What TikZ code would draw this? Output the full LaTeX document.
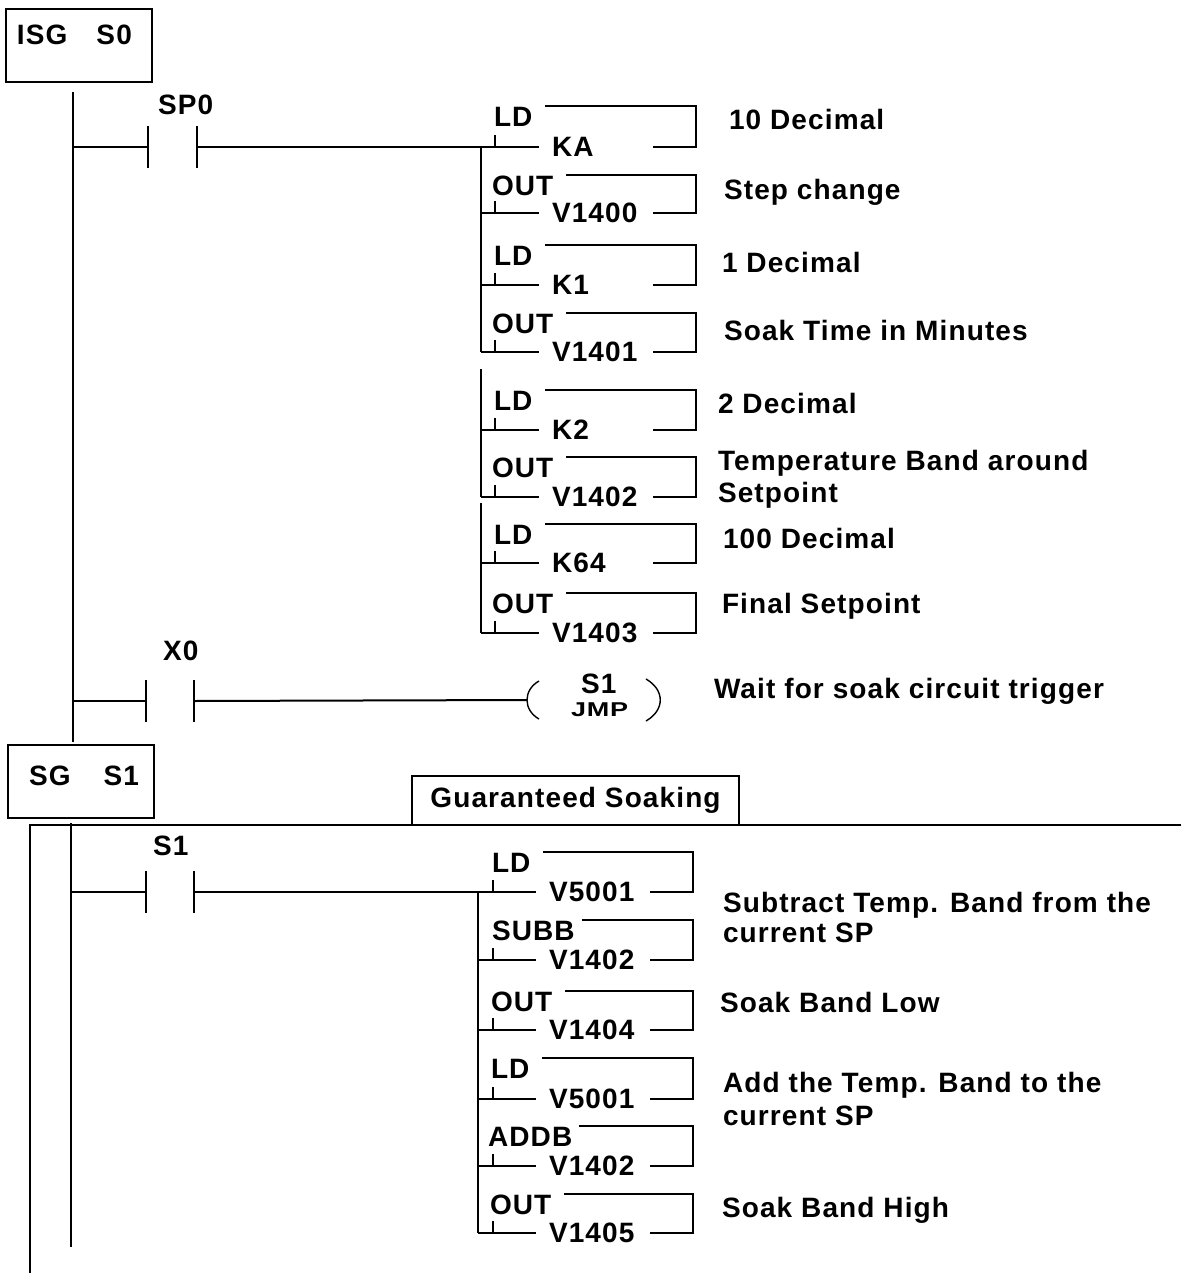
\documentclass[tikz,border=0pt]{standalone}
\usepackage{fontspec}
\setmainfont{Liberation Sans}[LetterSpace=4]
\usetikzlibrary{positioning}

\begin{document}
\begin{tikzpicture}[
    x=0.5pt, y=-0.5pt,
    line width=1pt,
    every node/.style={
        font=\fontsize{14}{16}\selectfont\bfseries,
        inner sep=0pt
    },
    stagebox/.style={draw, minimum width=73pt, minimum height=36.5pt},
    contact/.style={minimum width=23.25pt, minimum height=19.75pt},
    instr/.style={anchor=north west},
    opnd/.style={inner xsep=6pt, text width=44pt, align=left},
    note/.style={anchor=base west},
    coil/.style={minimum width=66pt, minimum height=20pt}
]
\useasboundingbox (0,0) rectangle (1181,1273);

% Stage S0
\node[stagebox] (isg) at (79,45.5) {};
\node[note] (isglbl) at (16,45) {ISG\hspace{14.5pt}S0};
\coordinate (rail0) at (73,92);
\draw (rail0) -- (73,742);

% rung 1: SP0 contact
\node[contact] (sp0) at (172.5,147) {};
\node[note] (sp0lbl) at (157,115) {SP0};
\draw (sp0.north west) -- (sp0.south west) (sp0.north east) -- (sp0.south east);
\draw (rail0 |- sp0) -- (sp0.west);

% instruction stack, S0
\coordinate (busA) at (481,0);
\coordinate (tickA) at (495,0);
\coordinate (rA) at (696,0);

\node[instr] (instr1) at (493,106) {LD};
\node[opnd] (opnd1) at (596,147) {KA};
\node[instr] (instr2) at (491,175) {OUT};
\node[opnd] (opnd2) at (596,213) {V1400};
\node[instr] (instr3) at (493,245) {LD};
\node[opnd] (opnd3) at (596,285) {K1};
\node[instr] (instr4) at (491,313) {OUT};
\node[opnd] (opnd4) at (596,352) {V1401};
\node[instr] (instr5) at (493,390) {LD};
\node[opnd] (opnd5) at (596,430) {K2};
\node[instr] (instr6) at (491,457) {OUT};
\node[opnd] (opnd6) at (596,497) {V1402};
\node[instr] (instr7) at (493,524) {LD};
\node[opnd] (opnd7) at (596,563) {K64};
\node[instr] (instr8) at (491,593) {OUT};
\node[opnd] (opnd8) at (596,633) {V1403};

\draw (sp0.east) -- (opnd1.west);
\draw ([xshift=6pt]instr1.north east) -- (instr1.north -| rA) |- (opnd1.east);
\draw ([xshift=6pt]instr2.north east) -- (instr2.north -| rA) |- (opnd2.east);
\draw ([xshift=6pt]instr3.north east) -- (instr3.north -| rA) |- (opnd3.east);
\draw ([xshift=6pt]instr4.north east) -- (instr4.north -| rA) |- (opnd4.east);
\draw ([xshift=6pt]instr5.north east) -- (instr5.north -| rA) |- (opnd5.east);
\draw ([xshift=6pt]instr6.north east) -- (instr6.north -| rA) |- (opnd6.east);
\draw ([xshift=6pt]instr7.north east) -- (instr7.north -| rA) |- (opnd7.east);
\draw ([xshift=6pt]instr8.north east) -- (instr8.north -| rA) |- (opnd8.east);

\draw (busA |- opnd1) -- (busA |- opnd4);
\draw (481,369) -- (busA |- opnd6);
\draw (481,503) -- (busA |- opnd8);
\draw (busA |- opnd2) -- (opnd2.west) (busA |- opnd3) -- (opnd3.west)
      (busA |- opnd4) -- (opnd4.west) (busA |- opnd5) -- (opnd5.west)
      (busA |- opnd6) -- (opnd6.west) (busA |- opnd7) -- (opnd7.west)
      (busA |- opnd8) -- (opnd8.west);
\draw (tickA |- opnd1) -- ++(0,-12) (tickA |- opnd2) -- ++(0,-12)
      (tickA |- opnd3) -- ++(0,-12) (tickA |- opnd4) -- ++(0,-12)
      (tickA |- opnd5) -- ++(0,-12) (tickA |- opnd6) -- ++(0,-12)
      (tickA |- opnd7) -- ++(0,-12) (tickA |- opnd8) -- ++(0,-12);

% comments, S0
\node[note] (note1) at (728,130) {10 Decimal};
\node[note] (note2) at (723,200) {Step change};
\node[note] (note3) at (721,272) {1 Decimal};
\node[note] (note4) at (723,340) {Soak Time in Minutes};
\node[note] (note5) at (717,413) {2 Decimal};
\node[note] (note6) at (717,470) {Temperature Band around};
\node[note] (note6b) at (717,502) {Setpoint};
\node[note] (note7) at (722,548) {100 Decimal};
\node[note] (note8) at (721,613) {Final Setpoint};

% rung 2: X0 contact and jump coil
\node[contact] (x0) at (170,701) {};
\node[note] (x0lbl) at (162,660) {X0};
\draw (x0.north west) -- (x0.south west) (x0.north east) -- (x0.south east);
\node[coil] (jmp) at (594,700) {};
\node[note] (jmpst) at (580,693) {S1};
\node[note, font=\fontsize{10}{12}\selectfont\bfseries\addfontfeature{FakeStretch=1.35}]
    (jmplbl) at (570,716) {JMP};
\draw (rail0 |- x0) -- (x0.west);
\draw (x0.east) -- (jmp.west);
\draw[line width=0.7pt] ([xshift=6pt,yshift=-1pt]jmp.north west)
    .. controls ([xshift=-2pt,yshift=5pt]jmp.west) and ([xshift=-2pt,yshift=-5pt]jmp.west)
    .. ([xshift=6pt,yshift=1pt]jmp.south west);
\draw[line width=0.7pt] ([xshift=-7.5pt]jmp.north east)
    .. controls ([xshift=2pt,yshift=5pt]jmp.east) and ([xshift=2pt,yshift=-5pt]jmp.east)
    .. ([xshift=-7.5pt]jmp.south east);
\node[note] (note9) at (713,698) {Wait for soak circuit trigger};

% Stage S1
\node[stagebox] (sg1) at (81,781.5) {};
\node[note] (sglbl) at (28,785) {SG\hspace{16.5pt}S1};
\node[draw, minimum width=163.5pt, minimum height=24.5pt] (gsoak) at (575.5,800) {Guaranteed Soaking};
\draw (1181,825) -- (30,825) -- (30,1273);
\coordinate (rail1) at (71,823);
\draw (rail1) -- (71,1247);

% rung 3: S1 contact
\node[contact] (s1) at (170,892) {};
\node[note] (s1lbl) at (152,855) {S1};
\draw (s1.north west) -- (s1.south west) (s1.north east) -- (s1.south east);
\draw (rail1 |- s1) -- (s1.west);

% instruction stack, S1
\coordinate (busB) at (478,0);
\coordinate (tickB) at (493,0);
\coordinate (rB) at (693,0);

\node[instr] (instr9) at (491,852) {LD};
\node[opnd] (opnd9) at (593,892) {V5001};
\node[instr] (instr10) at (491,920) {SUBB};
\node[opnd] (opnd10) at (593,960) {V1402};
\node[instr] (instr11) at (490,991) {OUT};
\node[opnd] (opnd11) at (593,1030) {V1404};
\node[instr] (instr12) at (490,1058) {LD};
\node[opnd] (opnd12) at (593,1099) {V5001};
\node[instr] (instr13) at (487,1126) {ADDB};
\node[opnd] (opnd13) at (593,1166) {V1402};
\node[instr] (instr14) at (489,1194) {OUT};
\node[opnd] (opnd14) at (593,1233) {V1405};

\draw (s1.east) -- (opnd9.west);
\draw ([xshift=6pt]instr9.north east) -- (instr9.north -| rB) |- (opnd9.east);
\draw ([xshift=3pt]instr10.north east) -- (instr10.north -| rB) |- (opnd10.east);
\draw ([xshift=6pt]instr11.north east) -- (instr11.north -| rB) |- (opnd11.east);
\draw ([xshift=6pt]instr12.north east) -- (instr12.north -| rB) |- (opnd12.east);
\draw ([xshift=3pt]instr13.north east) -- (instr13.north -| rB) |- (opnd13.east);
\draw ([xshift=6pt]instr14.north east) -- (instr14.north -| rB) |- (opnd14.east);

\draw (busB |- opnd9) -- (busB |- opnd14);
\draw (busB |- opnd10) -- (opnd10.west) (busB |- opnd11) -- (opnd11.west)
      (busB |- opnd12) -- (opnd12.west) (busB |- opnd13) -- (opnd13.west)
      (busB |- opnd14) -- (opnd14.west);
\draw (tickB |- opnd9) -- ++(0,-12) (tickB |- opnd10) -- ++(0,-12)
      (tickB |- opnd11) -- ++(0,-12) (tickB |- opnd12) -- ++(0,-12)
      (tickB |- opnd13) -- ++(0,-12) (tickB |- opnd14) -- ++(0,-12);

% comments, S1
\node[note] (note10) at (722,912) {Subtract Temp. Band from the};
\node[note] (note10b) at (722,942) {current SP};
\node[note] (note11) at (719,1012) {Soak Band Low};
\node[note] (note12) at (722,1092) {Add the Temp. Band to the};
\node[note] (note12b) at (722,1125) {current SP};
\node[note] (note13) at (721,1217) {Soak Band High};

\end{tikzpicture}
\end{document}
